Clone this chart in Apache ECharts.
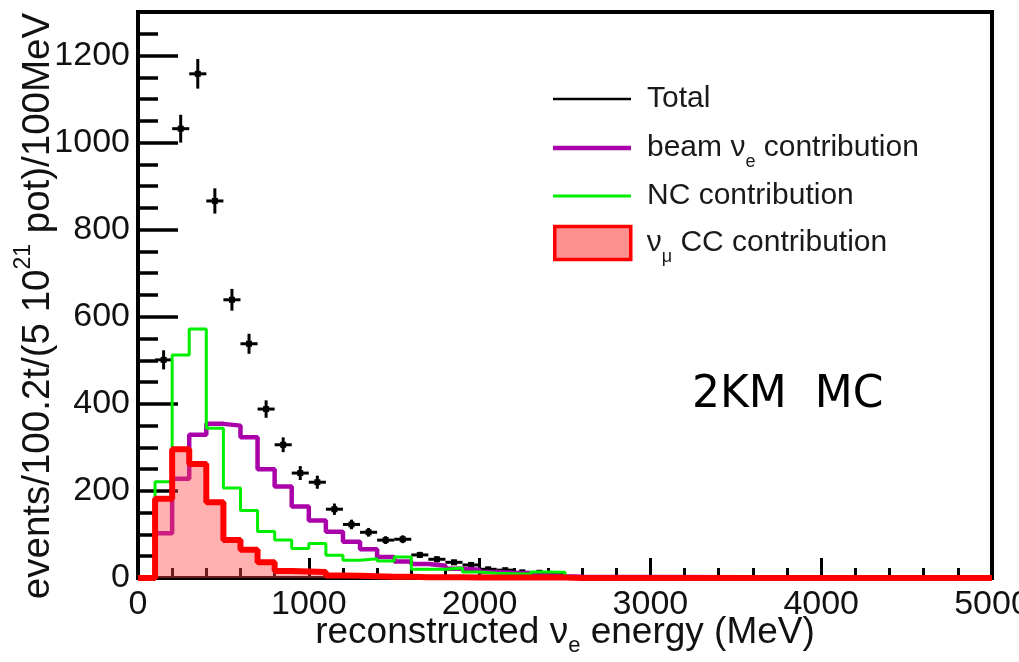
<!DOCTYPE html>
<html>
<head>
<meta charset="utf-8">
<title>Reconstructed nu_e energy, 2KM MC</title>
<script src="https://cdn.jsdelivr.net/npm/echarts@6/dist/echarts.min.js"></script>
<style>
  html, body { margin: 0; padding: 0; background: #fff; }
  #chart { width: 1019px; height: 662px; }
</style>
</head>
<body>
<div id="chart"></div>
<script>
// 100 MeV bins, listed by lower edge; bins above 2600 MeV are empty.
const binWidth = 100;
const binLowEdges = [0, 100, 200, 300, 400, 500, 600, 700, 800, 900, 1000, 1100, 1200,
  1300, 1400, 1500, 1600, 1700, 1800, 1900, 2000, 2100, 2200, 2300, 2400, 2500];
const energyMax = 5000;

// Total expected events per bin and their error bars
const totalEvents = [null, 501, 1032, 1158, 866, 639, 538, 388, 306, 241, 220, 158, 123,
  105, 87, 89, 53, 43, 36, 30, 20, 18, 13, 12, 8, null];
const totalErrors = [null, 22, 32, 34, 29, 25, 23, 20, 17, 16, 15, 13, 11,
  10, 9, 9, 7, 7, 6, 5, 4, 4, 4, 3, 3, null];

// Individual contributions
const beamNue = [0, 103, 228, 329, 354, 350, 323, 250, 210, 164, 132, 106, 83,
  66, 48, 38, 32, 28, 21, 19, 14, 12, 11, 6, 4, 3];
const ncEvents = [0, 221, 512, 572, 344, 207, 155, 107, 87, 68, 79, 52, 41,
  44, 39, 48, 20, 20, 23, 14, 11, 10, 9, 14, 13, 0];
const numuCC = [0, 182, 296, 262, 174, 87, 65, 36, 16, 15, 14, 6, 5,
  4, 3, 3, 2, 2, 2, 1, 1, 1, 1, 1, 1, 0];

const FONT = '"Liberation Sans", Arial, Helvetica, sans-serif';

// Turn per-bin contents into step-line vertices (lower edges, then close the histogram)
function histogramSteps(values) {
  const pts = binLowEdges.map((lo, i) => [lo, values[i]]);
  const lastHi = binLowEdges[binLowEdges.length - 1] + binWidth;
  pts.push([lastHi, 0]);
  pts.push([energyMax, 0]);
  return pts;
}

const totalPoints = [];
binLowEdges.forEach((lo, i) => {
  if (totalEvents[i] != null) totalPoints.push([lo + binWidth / 2, totalEvents[i], totalErrors[i]]);
});

const NAME_TOTAL = 'Total';
const NAME_BEAM = 'beam νe contribution';
const NAME_NC = 'NC contribution';
const NAME_CC = 'νμ CC contribution';

const legendLabels = {};
legendLabels[NAME_TOTAL] = '{g| }Total';
legendLabels[NAME_BEAM] = '{g| }beam ν{sub|e} contribution';
legendLabels[NAME_NC] = '{g| }NC contribution';
legendLabels[NAME_CC] = '{g| }ν{sub|μ} CC contribution';

function legendText(lineHeight) {
  return {
    fontFamily: FONT, fontSize: 30, color: '#1a1a1a', lineHeight: lineHeight,
    rich: {
      g: { width: 11 },
      sub: { fontFamily: FONT, fontSize: 18, lineHeight: 16, padding: [28, 0, 0, 0], color: '#1a1a1a' }
    }
  };
}

function legendEntry(name, top, itemWidth, itemHeight, itemStyle, lineHeight) {
  return {
    data: [{ name: name, icon: 'rect', itemStyle: itemStyle }],
    left: 553, top: top, padding: 0,
    itemWidth: itemWidth, itemHeight: itemHeight,
    selectedMode: false,
    formatter: (n) => legendLabels[n],
    textStyle: legendText(lineHeight)
  };
}

const plainNumber = (v) => String(v);

const chart = echarts.init(document.getElementById('chart'), null, { renderer: 'canvas' });

const option = {
  animation: false,
  backgroundColor: '#fff',
  grid: {
    left: 138, right: 27, top: 12, bottom: 84,
    containLabel: false, outerBoundsMode: 'none',
    show: true, borderColor: '#000', borderWidth: 4, backgroundColor: 'transparent'
  },
  xAxis: {
    type: 'value', min: 0, max: energyMax, interval: 1000,
    axisLine: { show: false },
    axisTick: { inside: true, length: 20, lineStyle: { color: '#000', width: 3 } },
    minorTick: { show: true, splitNumber: 5, length: 10, lineStyle: { color: '#000', width: 3 } },
    splitLine: { show: false },
    minorSplitLine: { show: false },
    axisLabel: { margin: 10, fontFamily: FONT, fontSize: 34, color: '#111', formatter: plainNumber, hideOverlap: false },
    name: 'reconstructed ν{sub|e} energy (MeV)',
    nameLocation: 'middle', nameGap: 34, nameMoveOverlap: false,
    nameTextStyle: {
      fontFamily: FONT, fontSize: 37, color: '#111', lineHeight: 42,
      rich: { sub: { fontFamily: FONT, fontSize: 22, lineHeight: 20, padding: [26, 0, 0, 0], color: '#111' } }
    }
  },
  yAxis: [
    {
      type: 'value', min: 0, max: 1300, interval: 200,
      axisLine: { show: false },
      axisTick: { inside: true, length: 40, lineStyle: { color: '#000', width: 3.5 } },
      splitLine: { show: false },
      axisLabel: { margin: 8, showMaxLabel: false, fontFamily: FONT, fontSize: 34, color: '#111', formatter: plainNumber },
      name: 'events/100.2t/(5 10{sup|21} pot)/100MeV',
      nameLocation: 'middle', nameGap: 78, nameMoveOverlap: false,
      nameTextStyle: {
        fontFamily: FONT, fontSize: 38.5, color: '#111', lineHeight: 44,
        padding: [0, 22, 0, 0],
        rich: { sup: { fontFamily: FONT, fontSize: 23, lineHeight: 20, padding: [0, 0, 28, 0], color: '#111' } }
      }
    },
    {
      type: 'value', min: 0, max: 1300, interval: 50, position: 'left',
      axisLine: { show: false },
      axisTick: { inside: true, length: 20, lineStyle: { color: '#000', width: 3.5 } },
      splitLine: { show: false },
      axisLabel: { show: false }
    }
  ],
  legend: [
    legendEntry(NAME_TOTAL, 81, 78, 2.5, { color: '#000', borderWidth: 0 }, 36),
    legendEntry(NAME_BEAM, 147 - 22, 78, 4.5, { color: '#aa00aa', borderWidth: 0 }, 36),
    legendEntry(NAME_NC, 195 - 17, 78, 3, { color: '#00ee00', borderWidth: 0 }, 36),
    legendEntry(NAME_CC, 242 - 22, 76, 33, { color: 'rgba(255,70,70,0.6)', borderColor: '#ff0000', borderWidth: 3.5 }, 36)
  ],
  graphic: [
    {
      type: 'text', left: 692, top: 374, z: 20,
      style: {
        text: '2KM  MC',
        font: '44px "Comic Sans MS", "DejaVu Sans", sans-serif', fill: '#000'
      }
    }
  ],
  series: [
    {
      name: NAME_TOTAL, type: 'custom', z: 3,
      data: totalPoints,
      encode: { x: 0, y: 1 },
      itemStyle: { color: '#000' },
      renderItem: function (params, api) {
        const xc = api.value(0), v = api.value(1), e = api.value(2);
        const pL = api.coord([xc - binWidth / 2, v]);
        const pR = api.coord([xc + binWidth / 2, v]);
        const pT = api.coord([xc, v + e]);
        const pB = api.coord([xc, v - e]);
        const pC = api.coord([xc, v]);
        return {
          type: 'group',
          children: [
            { type: 'line', shape: { x1: pL[0], y1: pL[1], x2: pR[0], y2: pR[1] }, style: { stroke: '#000', lineWidth: 3 } },
            { type: 'line', shape: { x1: pT[0], y1: pT[1], x2: pB[0], y2: pB[1] }, style: { stroke: '#000', lineWidth: 3 } },
            { type: 'rect', shape: { x: pC[0] - 3, y: pC[1] - 3, width: 6, height: 6 }, style: { fill: '#000' } }
          ]
        };
      }
    },
    {
      name: NAME_BEAM, type: 'line', step: 'end', z: 4,
      data: histogramSteps(beamNue), symbol: 'none',
      itemStyle: { color: '#aa00aa' },
      lineStyle: { color: '#aa00aa', width: 4.5 }
    },
    {
      name: NAME_NC, type: 'line', step: 'end', z: 5,
      data: histogramSteps(ncEvents), symbol: 'none',
      itemStyle: { color: '#00ee00' },
      lineStyle: { color: '#00ee00', width: 3 }
    },
    {
      name: NAME_CC, type: 'line', step: 'end', z: 6, clip: false,
      data: histogramSteps(numuCC), symbol: 'none',
      itemStyle: { color: '#ff0000' },
      lineStyle: { color: '#ff0000', width: 6 },
      areaStyle: { color: 'rgba(255,70,70,0.6)', origin: 'start' }
    }
  ]
};

chart.setOption(option);
</script>
</body>
</html>
